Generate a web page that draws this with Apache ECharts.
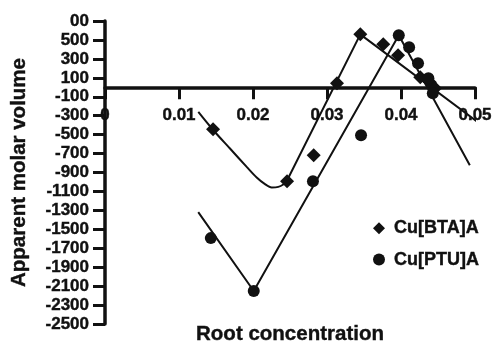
<!DOCTYPE html>
<html>
<head>
<meta charset="utf-8">
<script src="https://cdn.jsdelivr.net/npm/echarts@6/dist/echarts.min.js"></script>
<style>html,body{margin:0;padding:0;background:#fff}#c{width:495px;height:343px}</style>
</head>
<body>
<div id="c"></div>
<script>
// Scatter data: Cu[BTA]A (diamonds)
var btaX = [0.0146, 0.0246, 0.0282, 0.03135, 0.0345, 0.0376, 0.0396, 0.0426, 0.0439, 0.0446];
var btaY = [-443, -992, -717, 42, 560, 454, 338, 106, 53, -10];
// Scatter data: Cu[PTU]A (circles)
var ptuX = [0.0143, 0.0201, 0.0281, 0.0346, 0.0397, 0.0411, 0.0423, 0.0437, 0.0443];
var ptuY = [-1593, -2152, -992, -506, 549, 422, 253, 95, -63];
// Fitted line for BTA: curved part then straight parts
var btaFitCurveX = [0.01261, 0.01455, 0.01689, 0.01915, 0.0205, 0.02162, 0.02253, 0.02342, 0.02409, 0.02455];
var btaFitCurveY = [-261, -446, -647, -841, -953, -1023, -1058, -1052, -1027, -992];
var btaFitLineX = [0.02455, 0.0345, 0.0504];
var btaFitLineY = [-992, 559, -370];
// Fitted line for PTU
var ptuFitX = [0.0126, 0.0201, 0.0397, 0.0493];
var ptuFitY = [-1319, -2152, 549, -823];
// Tick labels
var xTickLabels = ['0', '0.01', '0.02', '0.03', '0.04', '0.05'];
var yTickLabels = ['-2500','-2300','-2100','-1900','-1700','-1500','-1300','-1100','-900','-700','-500','-300','-100','100','300','500','00'];
var seriesNames = ['Cu[BTA]A', 'Cu[PTU]A'];

function pairs(xs, ys) { return xs.map(function (x, i) { return [x, ys[i]]; }); }

var ink = '#111';
var font = 'Liberation Sans';
var gridTop = 21, gridBottom = 19, H = 343;
var yMin = -2500, yMax = 700;
var plotH = H - gridTop - gridBottom;
var zeroOffset = -(plotH * (0 - yMin) / (yMax - yMin));
var bold = { color: ink, fontWeight: 'bold', fontFamily: font, textBorderColor: ink, textBorderWidth: 0.4 };
function ts(size) { return Object.assign({ fontSize: size }, bold); }

var chart = echarts.init(document.getElementById('c'));
chart.setOption({
  animation: false,
  textStyle: { fontFamily: font },
  grid: { left: 105, right: 20, top: gridTop, bottom: gridBottom, containLabel: false, outerBoundsMode: 'none' },
  xAxis: {
    type: 'value', min: 0, max: 0.05, interval: 0.01,
    offset: zeroOffset,
    axisLine: { onZero: false, lineStyle: { color: ink, width: 3.5 } },
    axisTick: { length: 12, lineStyle: { color: ink, width: 3 } },
    axisLabel: Object.assign({ margin: 20, formatter: function (v, i) { return xTickLabels[i]; } }, ts(17)),
    splitLine: { show: false }
  },
  yAxis: {
    type: 'value', min: yMin, max: yMax, interval: 200,
    name: 'Apparent molar volume', nameLocation: 'middle', nameGap: 75,
    nameTextStyle: ts(20.5),
    axisLine: { onZero: false, lineStyle: { color: ink, width: 3.5 } },
    axisTick: { length: 12, lineStyle: { color: ink, width: 3 } },
    axisLabel: Object.assign({ margin: 16, formatter: function (v, i) { return yTickLabels[i]; } }, ts(17)),
    splitLine: { show: false }
  },
  legend: {
    data: seriesNames, orient: 'vertical', left: 368, top: 214,
    itemWidth: 12, itemHeight: 12, itemGap: 13,
    textStyle: Object.assign({ padding: [0, 0, 0, 4] }, ts(18))
  },
  graphic: [{
    type: 'text', x: 290, y: 334,
    style: { text: 'Root concentration', fill: ink, stroke: ink, lineWidth: 0.4, font: 'bold 20.5px "Liberation Sans"', textAlign: 'center', textVerticalAlign: 'middle' }
  }],
  series: [
    { name: 'btaFitCurve', type: 'line', data: pairs(btaFitCurveX, btaFitCurveY), smooth: 0.3,
      showSymbol: false, symbol: 'none', clip: false, lineStyle: { color: ink, width: 2 }, z: 1 },
    { name: 'btaFitLine', type: 'line', data: pairs(btaFitLineX, btaFitLineY),
      showSymbol: false, symbol: 'none', clip: false, lineStyle: { color: ink, width: 2 }, z: 1 },
    { name: 'ptuFit', type: 'line', data: pairs(ptuFitX, ptuFitY),
      showSymbol: false, symbol: 'none', clip: false, lineStyle: { color: ink, width: 2 }, z: 1 },
    { name: seriesNames[0], type: 'scatter', data: pairs(btaX, btaY), symbol: 'diamond', symbolSize: 14,
      itemStyle: { color: ink, opacity: 1 }, z: 3 },
    { name: seriesNames[1], type: 'scatter', data: pairs(ptuX, ptuY), symbol: 'circle', symbolSize: 12,
      itemStyle: { color: ink, opacity: 1 }, z: 3 }
  ]
});
</script>
</body>
</html>
